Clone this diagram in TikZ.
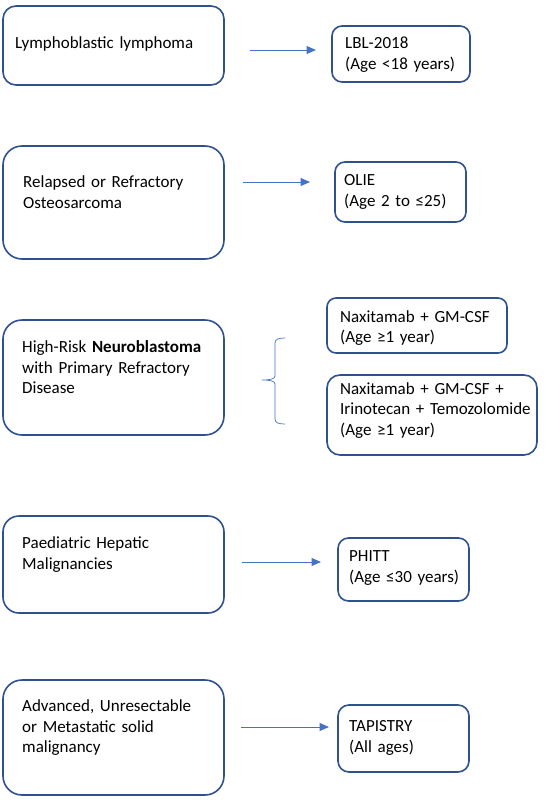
\documentclass[tikz,border=0pt]{standalone}
\usepackage{fontspec}
\setmainfont{Carlito}
\usetikzlibrary{arrows.meta}
\definecolor{boxc}{HTML}{2F528F}
\definecolor{arrc}{HTML}{4472C4}
\tikzset{
  box/.style={draw=boxc, line width=1.6pt, rounded corners=#1, inner sep=0pt},
  txt/.style={anchor=base west, inner sep=0pt, text width=200pt, align=left,
              font=\fontsize{17}{20.7}\selectfont},
  arr/.style={draw=arrc, line width=1pt, -{Triangle[length=9.5pt,width=8pt]}},
  brace/.style={draw=arrc, line width=0.7pt}
}
\begin{document}
\begin{tikzpicture}[x=1pt,y=-1pt]
\useasboundingbox[fill=white] (0,0) rectangle (546,803);
% left boxes
\node[box=13pt, minimum width=221pt, minimum height=79pt] (b1) at (113.5,45.5) {};
\node[box=19pt, minimum width=221pt, minimum height=113pt] (b2) at (113.5,202.5) {};
\node[box=19pt, minimum width=221pt, minimum height=115pt] (b3) at (113.5,377.5) {};
\node[box=16pt, minimum width=221pt, minimum height=97pt] (b4) at (113.5,564.5) {};
\node[box=19pt, minimum width=221pt, minimum height=115pt] (b5) at (113.5,737.5) {};
% right boxes
\node[box=10pt, minimum width=138pt, minimum height=56pt] (r1) at (401,54) {};
\node[box=10pt, minimum width=131pt, minimum height=60pt] (r2) at (400.5,192) {};
\node[box=9pt, minimum width=180pt, minimum height=55pt] (r3a) at (417,325.5) {};
\node[box=13pt, minimum width=210pt, minimum height=80pt] (r3b) at (432,415) {};
\node[box=10.5pt, minimum width=131pt, minimum height=63pt] (r4) at (403.5,569.5) {};
\node[box=11pt, minimum width=131pt, minimum height=67pt] (r5) at (403.5,738.5) {};
% texts
\node[txt] (t1) at (15,48.5) {Lymphoblastic lymphoma};
\node[txt] (t2) at (23,187.5) {Relapsed or Refractory\\Osteosarcoma};
\node[txt] (t3) at (22,352.5) {High-Risk \textbf{Neuroblastoma}\\with Primary Refractory\\Disease};
\node[txt] (t4) at (22,548.5) {Paediatric Hepatic\\Malignancies};
\node[txt] (t5) at (22,711.5) {Advanced, Unresectable\\or Metastatic solid\\malignancy};
\node[txt] (u1) at (345,48.5) {LBL-2018\\(Age <18 years)};
\node[txt] (u2) at (344,185.5) {OLIE\\(Age 2 to ≤25)};
\node[txt] (u3a) at (340,322) {Naxitamab + GM-CSF\\(Age ≥1 year)};
\node[txt] (u3b) at (340,394) {Naxitamab + GM-CSF +\\Irinotecan + Temozolomide\\(Age ≥1 year)};
\node[txt] (u4) at (349,561.5) {PHITT\\(Age ≤30 years)};
\node[txt] (u5) at (349,731.5) {TAPISTRY\\(All ages)};
% arrows
\coordinate (a1s) at (250,50);  \coordinate (a1e) at (316,50);
\coordinate (a2s) at (243,182); \coordinate (a2e) at (310,182);
\coordinate (a4s) at (242,562); \coordinate (a4e) at (321,562);
\coordinate (a5s) at (241,727); \coordinate (a5e) at (329,727);
\draw[arr] (a1s) -- (a1e);
\draw[arr] (a2s) -- (a2e);
\draw[arr] (a4s) -- (a4e);
\draw[arr] (a5s) -- (a5e);
% brace
\coordinate (bt) at (285,338);
\coordinate (bm) at (262,380);
\coordinate (bb) at (285,424);
\draw[brace] (bt) .. controls (279,338) and (275,339) .. (275,343) -- (275,376)
  .. controls (275,379) and (270,380) .. (bm)
  .. controls (270,380) and (275,381) .. (275,384) -- (275,419)
  .. controls (275,423) and (279,424) .. (bb);
\end{tikzpicture}
\end{document}
